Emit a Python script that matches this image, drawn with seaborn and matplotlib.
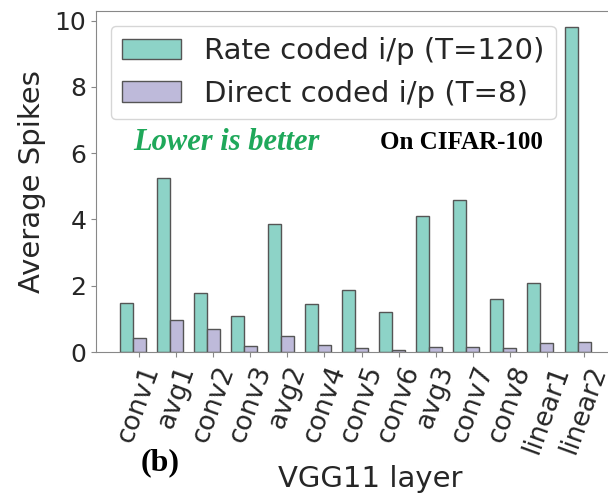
import numpy as np
import pandas as pd
import matplotlib
matplotlib.use("Agg")
import matplotlib.pyplot as plt
import seaborn as sns

layers = ["conv1", "avg1", "conv2", "conv3", "avg2", "conv4", "conv5",
          "conv6", "avg3", "conv7", "conv8", "linear1", "linear2"]
rate_spikes = [1.48, 5.24, 1.78, 1.08, 3.86, 1.45, 1.87, 1.20, 4.10, 4.60, 1.60, 2.07, 9.80]
direct_spikes = [0.42, 0.98, 0.69, 0.18, 0.48, 0.21, 0.13, 0.05, 0.15, 0.16, 0.12, 0.28, 0.30]
series_names = ["Rate coded i/p (T=120)", "Direct coded i/p (T=8)"]
series_colors = ["#8dd3c7", "#bebada"]

df = pd.DataFrame({
    "layer": layers * 2,
    "spikes": rate_spikes + direct_spikes,
    "coding": [series_names[0]] * len(layers) + [series_names[1]] * len(layers),
})

sns.set_style("ticks")
plt.rcParams["font.family"] = ["DejaVu Sans"]

fig = plt.figure(figsize=(6.08, 4.98), dpi=100)
ax = fig.add_axes([0.158, 0.293, 0.852, 0.685])

sns.barplot(data=df, x="layer", y="spikes", hue="coding", hue_order=series_names,
            palette=series_colors, width=0.7, edgecolor="#555555", linewidth=1.0,
            errorbar=None, ax=ax, saturation=1)

w = 0.35
ax.set_xticks(np.arange(len(layers)) + w / 2)
ax.set_xticklabels(layers, rotation=70, ha="center", fontsize=19)
ax.set_xlim(-0.985, 12.985)
ax.set_ylim(0, 10.29)
ax.set_yticks([0, 2, 4, 6, 8, 10])
ax.tick_params(axis="y", labelsize=18)
ax.set_xlabel("VGG11 layer", fontsize=21)
ax.xaxis.set_label_coords(0.529, -0.33)
ax.set_ylabel("Average Spikes", fontsize=21, labelpad=6)
for s in ax.spines.values():
    s.set_color("#888888")
ax.tick_params(color="#888888")

leg = ax.legend(loc="upper left", fontsize=21, handlelength=2.0, frameon=True,
                borderaxespad=0.5)
leg.set_title(None)

fig.text(0.219, 0.713, "Lower is better", color="#1fa85a", fontsize=22,
         family="Liberation Serif", style="italic", fontweight="bold", va="center")
fig.text(0.625, 0.713, "On CIFAR-100", color="black", fontsize=18,
         family="Liberation Serif", fontweight="bold", va="center")
fig.text(0.263, 0.070, "(b)", color="black", fontsize=23,
         family="Liberation Serif", fontweight="bold", ha="center", va="center")

fig.savefig("out.png", dpi=100)
